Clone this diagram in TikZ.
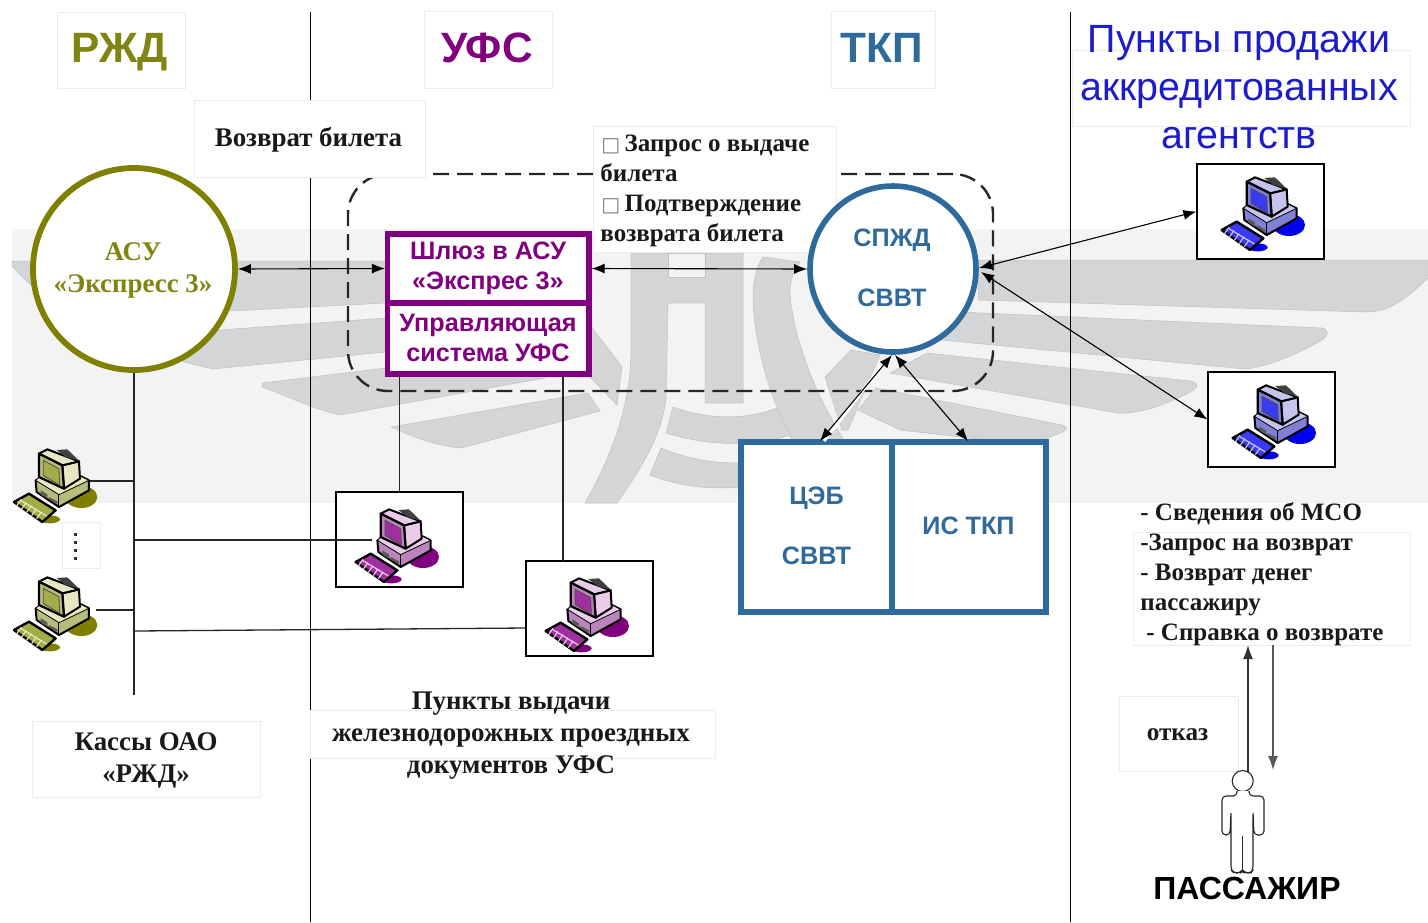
\documentclass[tikz,border=0pt]{standalone}
\usepackage{fontspec}
\setmainfont{Liberation Serif}
\newfontfamily\arl{Liberation Sans}
\newfontfamily\djv{DejaVu Sans}
\usetikzlibrary{arrows.meta}
\definecolor{bgg}{HTML}{F3F3F3}
\definecolor{wing}{HTML}{D3D5D7}
\definecolor{wingl}{HTML}{BFC1C3}
\definecolor{faint}{HTML}{ECECEC}
\definecolor{olv}{HTML}{808000}
\definecolor{olvt}{HTML}{7F8510}
\definecolor{prp}{HTML}{800080}
\definecolor{stl}{HTML}{2F6A9C}
\definecolor{agb}{HTML}{1C1CCB}
\definecolor{olA}{HTML}{E6E8C4}
\definecolor{olB}{HTML}{B9BD7C}
\definecolor{olC}{HTML}{A4AC48}
\definecolor{prA}{HTML}{E8CCE8}
\definecolor{prB}{HTML}{BC84BC}
\definecolor{prC}{HTML}{A030A0}
\definecolor{blA}{HTML}{C4C4EE}
\definecolor{blB}{HTML}{8080D4}
\definecolor{blC}{HTML}{3A3AF0}
\definecolor{blD}{HTML}{0000F0}
\tikzset{
 wingshape/.style={fill=wing,draw=wingl,line width=.25pt},
 labbox/.style={rectangle,fill=white,draw=faint,line width=.5pt,inner sep=0pt},
 pcbox/.style={rectangle,fill=white,draw=black,line width=.6pt,inner sep=0pt,minimum width=63.5pt,minimum height=47.5pt},
 serb/.style={font=\fontsize{13.45}{15}\selectfont\bfseries,text=black!90,align=center,inner sep=0pt},
 serc/.style={font=\fontsize{12.5}{15}\selectfont\bfseries,text=black!90,inner sep=0pt},
 headl/.style={font=\arl\fontsize{21.2}{24}\selectfont\bfseries,inner sep=0pt,anchor=base},
 sansb/.style={font=\arl\fontsize{12.6}{30}\selectfont\bfseries,inner sep=0pt,align=center},
 wire/.style={draw=black!85,line width=.65pt},
 dblarrow/.style={draw=black,line width=.55pt,{Latex[length=6.5pt,width=5pt]}-{Latex[length=6.5pt,width=5pt]}},
 onearrow/.style={draw=black!80,line width=.7pt,-{Latex[length=7pt,width=5pt]}},
 thickst/.style={rectangle,draw=stl,line width=2.6pt,fill=white,inner sep=0pt},
 thickpr/.style={rectangle,draw=prp,line width=2.6pt,fill=white,inner sep=0pt,minimum width=100.75pt},
 prtext/.style={text=prp,font=\arl\fontsize{12.6}{15}\selectfont\bfseries,align=center,inner sep=0pt},
}
% computer icon: x,y shift, light, mid, screen, shadow
\newcommand\pccomp[6]{%
\begin{scope}[shift={(#1,#2)},x=.16667pt,y=-.16667pt,shift={(54,18)},line join=round]
 \fill[#6] (222,165) ellipse [x radius=8pt,y radius=5.5pt];
 \fill[#6] (128,232) ellipse [x radius=5pt,y radius=2pt];
 % base
 \filldraw[fill=#4,draw=black,line width=1pt] (85,115) -- (88,150) -- (155,195) -- (245,145) -- (245,115) -- (215,100) -- (150,130) -- cycle;
 \filldraw[fill=#3,draw=black,line width=.4pt] (85,115) -- (155,158) -- (245,115) -- (215,100) -- (170,140) -- (95,105) -- cycle;
 \draw[black,line width=.5pt] (155,158) -- (155,195);
 \fill[black!65] (100,145) -- (120,157) -- (120,170) -- (100,158) -- cycle;
 \fill[black!65] (125,165) -- (150,178) -- (150,186) -- (125,173) -- cycle;
 % monitor
 \filldraw[fill=#3,draw=black,line width=1pt] (165,70) -- (215,58) -- (218,110) -- (170,140) -- cycle;
 \filldraw[fill=#3,draw=black,line width=1pt] (95,35) -- (120,22) -- (215,58) -- (165,70) -- cycle;
 \fill[black!75] (148,24) -- (180,22) -- (215,56) -- (175,45) -- cycle;
 \filldraw[fill=#4,draw=black,line width=1.1pt] (95,35) -- (165,70) -- (170,140) -- (95,105) -- cycle;
 \filldraw[fill=#5,draw=black!70,line width=.4pt] (108,55) -- (155,80) -- (157,130) -- (108,100) -- cycle;
 % keyboard
 \filldraw[fill=#5,draw=black,line width=1.2pt] (20,180) -- (65,155) -- (145,205) -- (105,240) -- cycle;
 \foreach \i in {0,1,2,3,4}{\draw[#3,line width=.6pt] ({42+\i*15},{172+\i*9.5}) -- ({28+\i*15},{192+\i*9.5});}
 \draw[#3,line width=.6pt] (40,175) -- (118,222);
\end{scope}}
\begin{document}
\begin{tikzpicture}[x=.5pt,y=-.5pt]
\useasboundingbox (0,0) rectangle (1428,922);
\fill[white] (0,0) rectangle (1428,922);
\fill[bgg] (12,229) rectangle (1428,503);
% winged logo
\filldraw[wingshape] (12,261) -- (386,261) -- (386,303) -- (230,311) -- (60,300) .. controls (35,292) and (25,280) .. (12,266) -- cycle;
\filldraw[wingshape] (150,335) -- (386,318) -- (386,352) -- (213,369) -- (184,362) -- cycle;
\filldraw[wingshape] (262,383) -- (386,368) -- (545,378) -- (340,415) .. controls (310,408) and (285,395) .. (262,387) -- cycle;
\filldraw[wingshape] (391,427) -- (588,393) -- (600,411) -- (461,448) .. controls (430,445) and (410,435) .. (391,427) -- cycle;
\filldraw[wingshape] (590,325) -- (622,367) -- (617,405) -- (590,377) -- cycle;
\filldraw[wingshape] (631,253) -- (743,253) -- (743,403) -- (705,403) -- (705,303) -- (668,303) -- (666,400) .. controls (660,440) and (640,470) .. (617,503) -- (585,503) .. controls (615,450) and (631,400) .. (631,350) -- cycle;
\fill[bgg,draw=wingl,line width=.25pt] (668,253) -- (705,253) -- (705,277) -- (668,277) -- cycle;
\filldraw[wingshape] (763,257) -- (800,262) .. controls (790,275) and (788,290) .. (792,310) .. controls (800,360) and (825,410) .. (845,442) -- (793,442) .. controls (770,400) and (753,340) .. (753,295) .. controls (753,280) and (757,265) .. (763,257) -- cycle;
\filldraw[wingshape] (673,407) .. controls (710,420) and (745,420) .. (777,408) -- (790,435) .. controls (750,448) and (705,445) .. (666,433) -- cycle;
\filldraw[wingshape] (661,448) .. controls (690,460) and (715,463) .. (741,463) -- (741,487) .. controls (705,490) and (675,485) .. (650,475) -- cycle;
\filldraw[wingshape] (825,377) -- (851,350) -- (880,355) -- (848,430) -- (842,430) -- cycle;
\filldraw[wingshape] (978,260) -- (1428,260) -- (1428,278) .. controls (1400,305) and (1385,312) .. (1365,312) -- (978,300) -- cycle;
\filldraw[wingshape] (960,312) -- (1322,328) .. controls (1330,330) and (1328,336) .. (1322,340) .. controls (1290,358) and (1265,367) .. (1245,369) -- (941,340) -- cycle;
\filldraw[wingshape] (927,353) -- (1190,381) .. controls (1200,383) and (1198,388) .. (1190,392) .. controls (1160,408) and (1135,414) .. (1118,413) -- (890,373) -- cycle;
\filldraw[wingshape] (876,388) -- (1062,425) .. controls (1068,427) and (1068,430) .. (1060,433) -- (1030,445) -- (900,430) -- (858,410) -- cycle;
% dashed zone
\node[rectangle,rounded corners=20pt,draw=black!85,line width=1.2pt,dash pattern=on 8pt off 4pt,minimum width=322.5pt,minimum height=108.5pt] (zone) at (670.5,282.5) {};
% column rules
\coordinate (ruleAt) at (310,12); \coordinate (ruleAb) at (310,922);
\coordinate (ruleBt) at (1070,12); \coordinate (ruleBb) at (1070,922);
\draw[black,line width=.5pt] (ruleAt) -- (ruleAb);
\draw[black,line width=.5pt] (ruleBt) -- (ruleBb);
% white label boxes
\node[labbox,minimum width=64pt,minimum height=38pt] (hrzd) at (121,50) {};
\node[headl,text=olvt] (hrzdt) at (120,62) {РЖД};
\node[labbox,minimum width=64pt,minimum height=38.5pt] (hufs) at (488,49.5) {};
\node[headl,text=prp] (hufst) at (487,62) {УФС};
\node[labbox,minimum width=52pt,minimum height=38.5pt] (htkp) at (883,49.5) {};
\node[headl,text=stl] (htkpt) at (881.5,62) {ТКП};
\node[labbox,minimum width=115.5pt,minimum height=38.5pt] (retb) at (309.5,138.5) {};
\node[serb] (rett) at (308.5,140) {Возврат билета};
\node[labbox,minimum width=169pt,minimum height=38pt] (agb) at (1241,88) {};
\node[inner sep=0pt,align=center,text=agb,font=\arl\fontsize{19.7}{24}\selectfont] (agt) at (1239,87) {Пункты продажи\\аккредитованных\\агентств};
\node[labbox,minimum width=121.5pt,minimum height=63pt] (req) at (714.5,189) {};
\node[serc,align=left,anchor=west] (reqt) at (600,191) {\hspace*{.5pt}{\djv\mdseries\fontsize{10}{15}\selectfont\textcolor{black!50}{□}}\hspace{2.2pt}Запрос о выдаче\\билета\\\hspace*{.5pt}{\djv\mdseries\fontsize{10}{15}\selectfont\textcolor{black!50}{□}}\hspace{2.2pt}Подтверждение\\возврата билета};
\node[labbox,minimum width=114pt,minimum height=38pt] (kas) at (146,759) {};
\node[serb,font=\fontsize{13.45}{16}\selectfont\bfseries] (kast) at (146,760) {Кассы ОАО\\«РЖД»};
\node[labbox,minimum width=202.5pt,minimum height=24pt] (issb) at (512.5,734) {};
\node[serb,font=\fontsize{13.45}{16}\selectfont\bfseries] (isst) at (511,736) {Пункты выдачи\\железнодорожных проездных\\документов УФС};
\node[labbox,minimum width=138.5pt,minimum height=56.5pt] (svb) at (1271.5,588.5) {};
\node[serc,align=left,anchor=west] (svt) at (1140,574.5) {- Сведения об МСО\\-Запрос на возврат\\- Возврат денег\\пассажиру\\\hspace*{3pt}- Справка о возврате};
\node[labbox,minimum width=59.5pt,minimum height=37.5pt] (otk) at (1178.5,733.5) {};
\node[font=\fontsize{12.6}{15}\selectfont\bfseries,text=black!90,inner sep=0pt] (otkt) at (1177.5,735) {отказ};
\node[labbox,minimum width=19pt,minimum height=23pt] (dots) at (81,545) {};
\foreach \d in {533,541,549,557}{\fill[black!80] (73.5,\d) rectangle (76.5,\d+3);}
% main shapes
\node[circle,draw=olv,line width=2.9pt,fill=white,minimum size=101pt,inner sep=0pt] (asu) at (134,269) {};
\node[serb,text=olvt,font=\fontsize{13.45}{16}\selectfont\bfseries] (asut) at (133,270) {АСУ\\«Экспресс 3»};
\node[circle,draw=stl,line width=2.8pt,fill=white,minimum size=83pt,inner sep=0pt] (spj) at (893,269) {};
\node[sansb,text=stl] (spjt) at (892,267.5) {СПЖД\\СВВТ};
\node[thickpr,minimum height=34.5pt] (gateu) at (488.3,268.5) {};
\node[thickpr,minimum height=35.5pt] (gatel) at (488.3,338.5) {};
\node[prtext] (gateut) at (488,268.5) {Шлюз в АСУ\\«Экспрес 3»};
\node[prtext] (gatelt) at (488,338) {Управляющая\\система УФС};
\node[thickst,minimum width=75.5pt,minimum height=85pt] (ceb) at (816.5,527) {};
\node[thickst,minimum width=77pt,minimum height=85pt] (istk) at (969,527) {};
\node[sansb,text=stl] (cebt) at (816.5,525.5) {ЦЭБ\\СВВТ};
\node[sansb,text=stl] (istkt) at (968.5,526) {ИС ТКП};
% pc boxes
\node[pcbox] (pcu) at (399.5,539.5) {};
\node[pcbox] (pcv) at (589.5,608.5) {};
\node[pcbox] (pca) at (1260.5,211.5) {};
\node[pcbox] (pcb) at (1271.5,419.5) {};
% wires
\coordinate (trunk) at (134,695);
\coordinate (j1) at (134,481); \coordinate (c1) at (86,481);
\coordinate (j2) at (134,540); \coordinate (c2) at (372,540);
\coordinate (j3) at (134,610); \coordinate (c3) at (96,610);
\coordinate (j4) at (134,631); \coordinate (c4) at (526,628);
\coordinate (gl1) at (399.5,376); \coordinate (gl2) at (563,376); \coordinate (gv2) at (563,561);
\draw[wire] (asu.south) -- (trunk);
\draw[wire] (j1) -- (c1);
\draw[wire] (j2) -- (c2);
\draw[wire] (j3) -- (c3);
\draw[wire] (j4) -- (c4);
\draw[wire] (gl1) -- (pcu.north);
\draw[wire] (gl2) -- (gv2);
% computers
\pccomp{331}{496}{prA}{prB}{prC}{prp}
\pccomp{521}{565}{prA}{prB}{prC}{prp}
\pccomp{-10.7}{436}{olA}{olB}{olC}{olv}
\pccomp{-10.7}{564}{olA}{olB}{olC}{olv}
\pccomp{1197}{164}{blA}{blB}{blC}{blD}
\pccomp{1208}{372}{blA}{blB}{blC}{blD}
% arrows
\coordinate (sa) at (979,268); \coordinate (sb) at (981,272);
\coordinate (bu) at (892,355); \coordinate (bv) at (895,355);
\coordinate (cebT) at (820,441); \coordinate (isT) at (968,441);
\draw[dblarrow] (asu.east) -- (gateu.west);
\draw[dblarrow] (gateu.east) -- (spj.west);
\draw[dblarrow] (sa) -- (pca.west);
\draw[dblarrow] (sb) -- (pcb.west);
\draw[white,line width=1.6pt] (888,358) -- (824,441);
\draw[dblarrow] (bu) -- (cebT);
\draw[dblarrow] (bv) -- (isT);
% passenger
\coordinate (upb) at (1248,645); \coordinate (dnt) at (1273,645); \coordinate (dnb) at (1273,770);
\coordinate (upa) at (1248,772);
\draw[onearrow] (upa) -- (upb);
\draw[onearrow,draw=black!65] (dnt) -- (dnb);
\node[circle,draw=black!85,line width=.55pt,fill=white,minimum size=10.5pt,inner sep=0pt] (head) at (1242.7,781) {};
\draw[black!85,line width=.55pt,line join=round,rounded corners=2pt,fill=white] (1237,791) -- (1237,796) -- (1222,796) -- (1222,835) -- (1230,835) -- (1231,811) -- (1231,870) -- (1234,873) -- (1240,873) -- (1242.5,870) -- (1245,873) -- (1251,873) -- (1253,870) -- (1253,811) -- (1254,835) -- (1264,835) -- (1264,796) -- (1249,796) -- (1249,791);
\draw[black!85,line width=.55pt] (1242.5,836) -- (1242.5,870);
\node[font=\arl\fontsize{16}{18}\selectfont\bfseries,inner sep=0pt,text=black] (pas) at (1247,888) {ПАССАЖИР};
\end{tikzpicture}
\end{document}
